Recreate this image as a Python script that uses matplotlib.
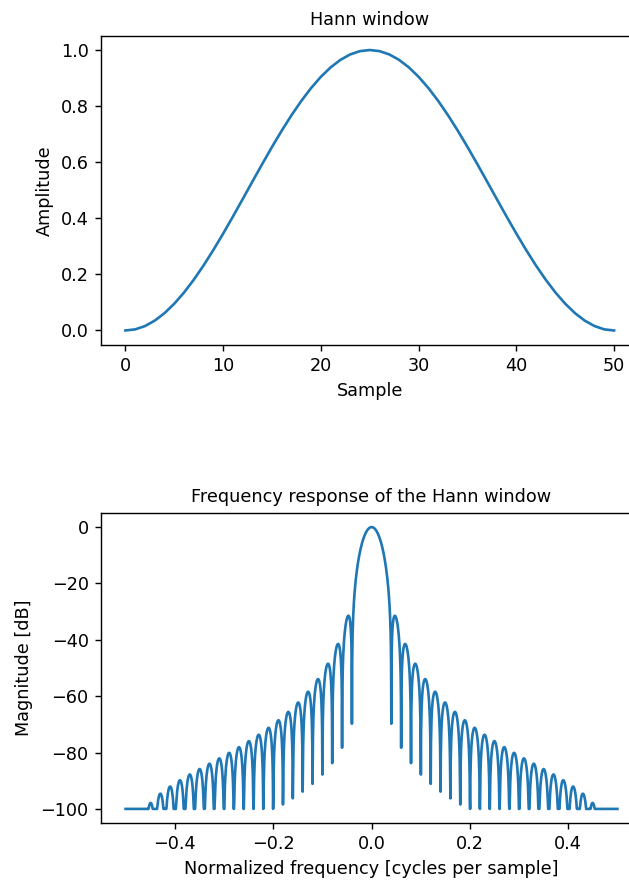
import numpy as np
import matplotlib
matplotlib.use("Agg")
import matplotlib.pyplot as plt

# Hann window samples (51 points), first half up to the peak, mirrored below
half_window = [0.0, 0.003943, 0.015708, 0.035112, 0.061847, 0.095492,
               0.135516, 0.181288, 0.232087, 0.287110, 0.345492, 0.406309,
               0.468605, 0.531395, 0.593691, 0.654508, 0.712890, 0.767913,
               0.818712, 0.864484, 0.904508, 0.938153, 0.964888, 0.984292,
               0.996057, 1.0]
window = np.array(half_window + half_window[-2::-1])

n_fft = 2048
db_floor = -100

W, H, DPI = 629, 884, 127
fig = plt.figure(figsize=(W / DPI, H / DPI), dpi=DPI)

# window in time domain
ax1 = fig.add_axes([101 / W, 1 - 344.5 / H, 537.5 / W, 308.5 / H])
ax1.plot(window)
ax1.set_title("Hann window", fontsize=10)
ax1.set_ylabel("Amplitude")
ax1.set_xlabel("Sample")

# frequency response, from the FFT of the samples above
A = np.fft.fft(window, n_fft) / (len(window) / 2.0)
freq = np.linspace(-0.5, 0.5, len(A))
response = 20 * np.log10(np.abs(np.fft.fftshift(A / np.abs(A).max())) + 1e-300)
response = np.clip(response, db_floor, 100)

ax2 = fig.add_axes([101 / W, 1 - 823 / H, 541 / W, 310 / H])
ax2.plot(freq, response)
ax2.set_title("Frequency response of the Hann window", fontsize=10)
ax2.set_ylabel("Magnitude [dB]")
ax2.set_xlabel("Normalized frequency [cycles per sample]")

fig.savefig("out.png", dpi=DPI)
